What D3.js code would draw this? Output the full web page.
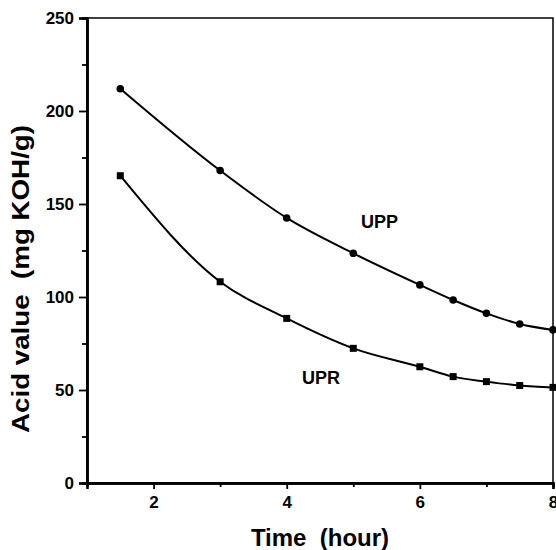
<!DOCTYPE html>
<html>
<head>
<meta charset="utf-8">
<script src="https://cdn.jsdelivr.net/npm/d3@7"></script>
<style>
  body { margin: 0; background: #fff; }
  svg text { font-family: "Liberation Sans", Arial, sans-serif; font-weight: bold; fill: #000; }
</style>
</head>
<body>
<div class="chart"></div>
<script>
// time in hours
const hours = [1.5, 3, 4, 5, 6, 6.5, 7, 7.5, 8];
const uppValues = [212, 168, 142.5, 123.5, 106.5, 98.4, 91.2, 85.5, 82.3];
const uprValues = [165.2, 108.2, 88.5, 72.4, 62.5, 57.2, 54.5, 52.4, 51.4];
const xTicks = [2, 4, 6, 8];
const xMinor = [3, 5, 7];
const yTicks = [0, 50, 100, 150, 200, 250];
const yMinor = [25, 75, 125, 175, 225];

const svgW = 556;
const svgH = 550;
const plotL = 87, plotR = 553, plotT = 18, plotB = 483;

const xScale = d3.scaleLinear().domain([1, 8]).range([plotL, plotR]);
const yScale = d3.scaleLinear().domain([0, 250]).range([plotB, plotT]);

const svg = d3.select(".chart")
  .append("svg")
  .attr("width", svgW)
  .attr("height", svgH);

// frame
svg.append("rect")
  .attr("x", plotL).attr("y", plotT)
  .attr("width", plotR - plotL).attr("height", plotB - plotT)
  .attr("fill", "none").attr("stroke", "#000").attr("stroke-width", 1.5);

// minor ticks
const xMinorAxis = d3.axisBottom(xScale).tickValues(xMinor).tickSize(4).tickFormat("");
const yMinorAxis = d3.axisLeft(yScale).tickValues(yMinor).tickSize(5).tickFormat("");

svg.append("g").attr("transform", `translate(0, ${plotB})`).call(xMinorAxis);
svg.append("g").attr("transform", `translate(${plotL}, 0)`).call(yMinorAxis);

const xAxis = svg.append("g")
  .attr("transform", `translate(0, ${plotB})`)
  .call(d3.axisBottom(xScale).tickValues(xTicks).tickSize(6).tickPadding(7).tickFormat(d3.format("d")));

const yAxis = svg.append("g")
  .attr("transform", `translate(${plotL}, 0)`)
  .call(d3.axisLeft(yScale).tickValues(yTicks).tickSize(8).tickPadding(5).tickFormat(d3.format("d")));

svg.selectAll(".domain").attr("stroke", "#000").attr("stroke-width", 2.5);
svg.selectAll(".tick line").attr("stroke", "#000").attr("stroke-width", 1.8);
svg.selectAll(".tick text")
  .style("font-size", "17px")
  .style("font-weight", "bold")
  .attr("fill", "#000");

// series
const upp = hours.map((h, i) => [h, uppValues[i]]);
const upr = hours.map((h, i) => [h, uprValues[i]]);

const line = d3.line()
  .x(d => xScale(d[0]))
  .y(d => yScale(d[1]))
  .curve(d3.curveMonotoneX);

[upp, upr].forEach(data => {
  svg.append("path")
    .datum(data)
    .attr("d", line)
    .attr("fill", "none")
    .attr("stroke", "#000")
    .attr("stroke-width", 2);
});

svg.selectAll(".upp")
  .data(upp)
  .enter()
  .append("circle")
  .attr("cx", d => xScale(d[0]))
  .attr("cy", d => yScale(d[1]))
  .attr("r", 3.8)
  .attr("fill", "#000");

svg.selectAll(".upr")
  .data(upr)
  .enter()
  .append("rect")
  .attr("x", d => xScale(d[0]) - 3.5)
  .attr("y", d => yScale(d[1]) - 3.5)
  .attr("width", 7)
  .attr("height", 7)
  .attr("fill", "#000");

// series labels
svg.append("text").text("UPP")
  .attr("x", 361).attr("y", 228)
  .style("font-size", "18px");

svg.append("text").text("UPR")
  .attr("x", 302).attr("y", 384)
  .style("font-size", "18px");

// axis titles
svg.append("text")
  .text("Time  (hour)")
  .attr("x", 320)
  .attr("y", 546)
  .style("white-space", "pre")
  .style("text-anchor", "middle")
  .style("font-size", "24px");

svg.append("text")
  .text("Acid value  (mg KOH/g)")
  .attr("transform", "translate(29, 279) rotate(-90)")
  .attr("textLength", 308)
  .attr("lengthAdjust", "spacingAndGlyphs")
  .style("white-space", "pre")
  .style("text-anchor", "middle")
  .style("font-size", "23px");
</script>
</body>
</html>
